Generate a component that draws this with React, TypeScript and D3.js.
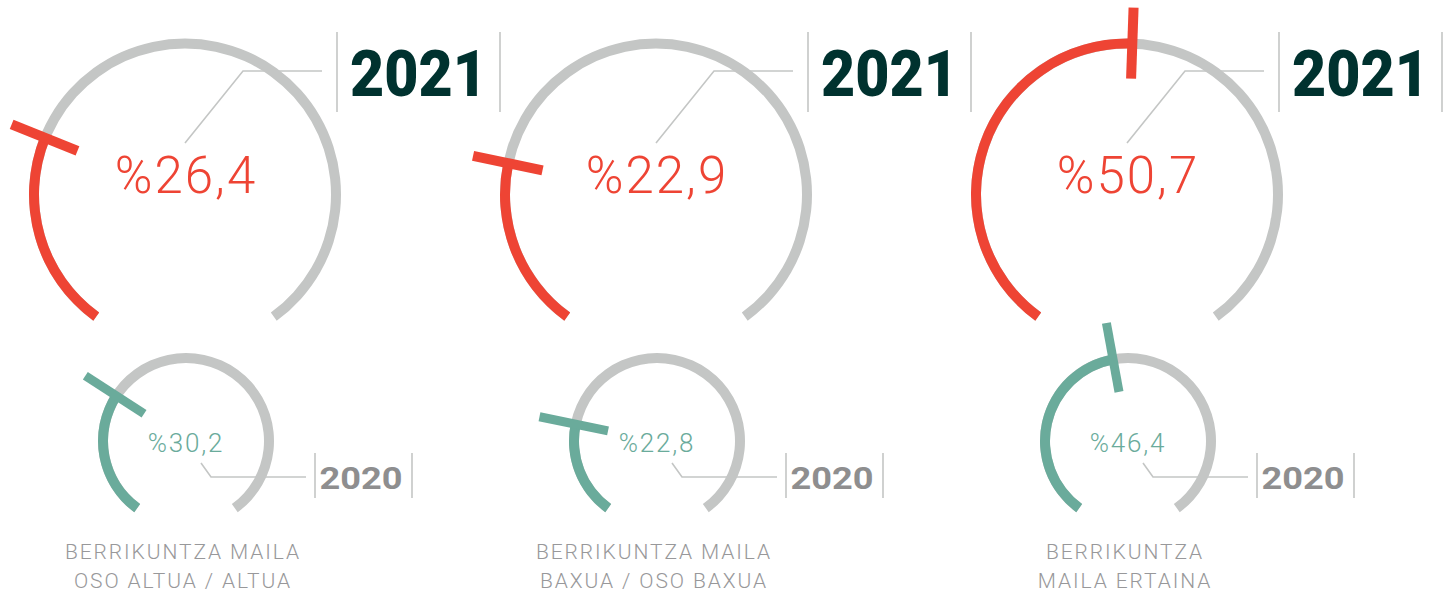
import * as d3 from 'd3';

// values (percent)
const levels = ['BERRIKUNTZA MAILA\nOSO ALTUA / ALTUA', 'BERRIKUNTZA MAILA\nBAXUA / OSO BAXUA', 'BERRIKUNTZA\nMAILA ERTAINA'];
const values2021 = [26.4, 22.9, 50.7];
const values2020 = [30.2, 22.8, 46.4];
const yearLabels = ['2021', '2020'];

const W = 1453;
const H = 595;
const RED = '#ee4434';
const TEAL = '#6aab9b';
const TRACK = '#c4c6c5';
const DARK = '#00322f';

const fmt = (v: number) => '%' + v.toFixed(1).replace('.', ',');

// gauge runs 288 degrees, open at the bottom
const angle = d3.scaleLinear().domain([0, 100]).range([-144, 144]);
const rad = (deg: number) => (deg * Math.PI) / 180;

const groupX = d3.scalePoint<number>().domain([0, 1, 2]).range([185, 1127]);

type GaugeProps = {
  cx: number;
  cy: number;
  r: number;
  value: number;
  color: string;
  big: boolean;
};

function Gauge({ cx, cy, r, value, color, big }: GaugeProps) {
  const half = 5;
  const arc = d3.arc<any>().innerRadius(r - half).outerRadius(r + half);
  const track = arc({ startAngle: rad(angle(0)), endAngle: rad(angle(100)) } as any) || '';
  const fill = arc({ startAngle: rad(angle(0)), endAngle: rad(angle(value)) } as any) || '';
  const a = rad(angle(value));
  const rIn = r - (big ? 35 : 33);
  const rOut = r + (big ? 36 : 37);
  return (
    <g transform={`translate(${cx},${cy})`}>
      <path d={track} fill={TRACK} />
      <path d={fill} fill={color} />
      <line
        x1={Math.sin(a) * rIn}
        y1={-Math.cos(a) * rIn}
        x2={Math.sin(a) * rOut}
        y2={-Math.cos(a) * rOut}
        stroke={color}
        strokeWidth={big ? 10 : 9}
      />
      <text
        x={big ? 1 : 0}
        y={big ? -1.5 : 11}
        textAnchor="middle"
        fill={color}
        fontFamily="Roboto, 'Noto Sans', sans-serif"
        fontWeight={300}
        fontSize={big ? 51 : 26}
        letterSpacing={big ? 2 : 1.8}
      >
        {fmt(value)}
      </text>
    </g>
  );
}

export default function App() {
  return (
    <div style={{ position: 'absolute', left: 0, top: 0 }}>
      <svg width={W} height={H} style={{ display: 'block', background: '#fff' }}>
        {levels.map((label, i) => {
          const cx = groupX(i)!;
          const cyBig = 194.5;
          const cySmall = 441;
          const lines = label.split('\n');
          return (
            <g key={i}>
              {/* 2021 callout */}
              <polyline
                points={`${cx},143 ${cx + 58},71 ${cx + 137},71`}
                fill="none"
                stroke={TRACK}
                strokeWidth={1.6}
              />
              <line x1={cx + 152} x2={cx + 152} y1={32} y2={112} stroke={TRACK} strokeWidth={1.6} />
              <line x1={cx + 315} x2={cx + 315} y1={32} y2={112} stroke={TRACK} strokeWidth={1.6} />
              <text
                x={cx + 233.5}
                y={96}
                textAnchor="middle"
                fill={DARK}
                fontFamily="Roboto, sans-serif"
                fontWeight={900}
                fontSize={64}
                textLength={137}
                lengthAdjust="spacingAndGlyphs"
              >
                {yearLabels[0]}
              </text>
              <Gauge cx={cx} cy={cyBig} r={151} value={values2021[i]} color={RED} big />

              {/* 2020 callout */}
              <polyline
                points={`${cx + 16},463 ${cx + 26},477 ${cx + 121},477`}
                fill="none"
                stroke={TRACK}
                strokeWidth={1.6}
              />
              <line x1={cx + 130} x2={cx + 130} y1={453} y2={498} stroke={TRACK} strokeWidth={1.6} />
              <line x1={cx + 227} x2={cx + 227} y1={453} y2={498} stroke={TRACK} strokeWidth={1.6} />
              <text
                x={cx + 176}
                y={489}
                textAnchor="middle"
                fill="#8e8e8f"
                fontFamily="Roboto, sans-serif"
                fontWeight={700}
                fontSize={32}
                textLength={83}
                lengthAdjust="spacingAndGlyphs"
              >
                {yearLabels[1]}
              </text>
              <Gauge cx={cx + 1} cy={cySmall} r={83} value={values2020[i]} color={TEAL} big={false} />

              {lines.map((t, j) => (
                <text
                  key={j}
                  x={cx - 2}
                  y={559 + j * 28.5}
                  textAnchor="middle"
                  fill="#98989a"
                  fontFamily="Roboto, sans-serif"
                  fontWeight={300}
                  fontSize={21}
                  letterSpacing={1.9}
                >
                  {t}
                </text>
              ))}
            </g>
          );
        })}
      </svg>
    </div>
  );
}
